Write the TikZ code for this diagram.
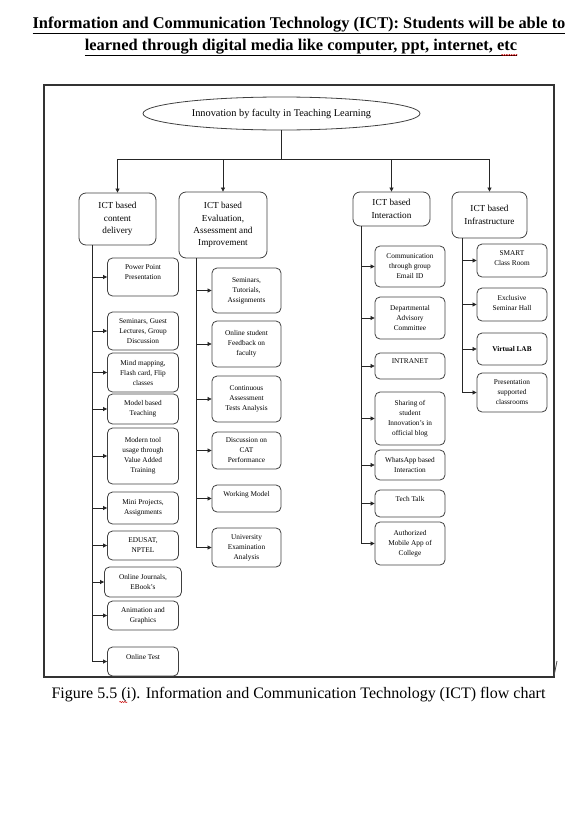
\documentclass[tikz,border=0pt]{standalone}
\usepackage{fontspec}
\setmainfont{Liberation Serif}
\usetikzlibrary{
    positioning,
    arrows.meta,
    shapes.geometric,
    decorations.pathmorphing
}

\tikzset{
    head/.style={draw=black!75, line width=0.8pt, rounded corners=7pt, align=center,
        inner sep=1pt, font=\fontsize{9.2}{12.4}\selectfont},
    item/.style={draw=black!75, line width=0.8pt, rounded corners=5pt, align=center,
        inner sep=1pt, font=\fontsize{7.3}{10}\selectfont},
    link/.style={line width=0.7pt, black!85},
    arr/.style={link, -{Triangle[length=4pt, width=4pt]}},
    squig/.style={red!80!black, line width=0.5pt, decorate,
        decoration={snake, amplitude=0.6pt, segment length=2.4pt}}
}

\begin{document}
\begin{tikzpicture}[x=1pt, y=-1pt]
            \useasboundingbox (0,0) rectangle (575,817);

            \node[anchor=base, inner sep=0, font=\bfseries\fontsize{16.4}{22}\selectfont] (title1) at (299,28)
                {\underline{Information and Communication Technology (ICT): Students will be able to}};
            \node[anchor=base, inner sep=0, font=\bfseries\fontsize{16.4}{22}\selectfont] (title2) at (301,50)
                {\underline{learned through digital media like computer, ppt, internet, etc}};
            \draw[squig] ([xshift=-16pt, yshift=-5pt]title2.base east) -- ++(16,0);

            \draw[line width=1.1pt, black!80] (44,85) rectangle (554,677);
            \draw[black!70, line width=0.8pt] (557,661) -- (554,676);

            \node[draw=black!75, line width=0.8pt, ellipse, minimum width=277, minimum height=33, inner sep=0,
                font=\fontsize{10.3}{12}\selectfont] (root) at (281.5,113.5) {Innovation by faculty in Teaching Learning};

            \node[head, minimum width=77, minimum height=52] (h1) at (117.5,219) {ICT based\\content\\delivery};
            \node[head, minimum width=88, minimum height=66] (h2) at (223,225) {ICT based\\Evaluation,\\Assessment and\\Improvement};
            \node[head, minimum width=77, minimum height=34] (h3) at (391.5,209) {ICT based\\Interaction};
            \node[head, minimum width=75, minimum height=46] (h4) at (489.5,215) {ICT based\\Infrastructure};

            \coordinate (bus) at (root.south |- 0,159);
            \draw[link] (root.south) -- (bus);
            \foreach \h in {h1,h2,h3,h4} {
                \draw[arr] (bus) -| (\h.north);
            }

            % content delivery
            \foreach \n/\y/\w/\h/\t in {
                pp/277/71/38/{Power Point\\Presentation\\\mbox{}},
                sgl/331/71/38/{Seminars, Guest\\Lectures, Group\\Discussion},
                mm/372.5/71/39/{Mind mapping,\\Flash card, Flip\\classes},
                mbt/409/71/30/{Model based\\Teaching},
                mtu/456/71/56/{Modern tool\\usage through\\Value Added\\Training},
                mpa/508/71/32/{Mini Projects,\\Assignments},
                edu/545.5/71/29/{EDUSAT,\\NPTEL},
                oje/582/77/30/{Online Journals,\\EBook’s},
                anim/615.5/71/29/{Animation and\\Graphics},
                ot/661.5/71/29/{Online Test\\\mbox{}}} {
                \node[item, minimum width=\w, minimum height=\h] (\n) at (143,\y) {\t};
            }
            \coordinate (t1) at (h1.south -| 92,0);
            \draw[arr] (t1) |- (ot.west);
            \foreach \n in {pp,sgl,mm,mbt,mtu,mpa,edu,oje,anim} {
                \draw[arr] (t1 |- \n.west) -- (\n.west);
            }

            % evaluation
            \foreach \n/\y/\h/\t in {
                sta/290.5/45/{Seminars,\\Tutorials,\\Assignments},
                osf/344/46/{Online student\\Feedback on\\faculty},
                cat/399/46/{Continuous\\Assessment\\Tests Analysis},
                dcp/450.5/37/{Discussion on\\CAT\\Performance},
                wm/498.5/27/{Working Model\\\mbox{}},
                uea/547.5/39/{University\\Examination\\Analysis}} {
                \node[item, minimum width=69, minimum height=\h] (\n) at (246.5,\y) {\t};
            }
            \coordinate (t2) at (h2.south -| 196,0);
            \draw[arr] (t2) |- (uea.west);
            \foreach \n in {sta,osf,cat,dcp,wm} {
                \draw[arr] (t2 |- \n.west) -- (\n.west);
            }

            % interaction
            \foreach \n/\y/\h/\t in {
                cge/266.5/41/{Communication\\through group\\Email ID},
                dac/318/42/{Departmental\\Advisory\\Committee},
                intra/366/26/{INTRANET\\\mbox{}},
                blog/418.5/53/{Sharing of\\student\\Innovation’s in\\official blog},
                wab/465/30/{WhatsApp based\\Interaction},
                tt/503.5/27/{Tech Talk\\\mbox{}},
                app/543.5/43/{Authorized\\Mobile App of\\College}} {
                \node[item, minimum width=70, minimum height=\h] (\n) at (410,\y) {\t};
            }
            \coordinate (t3) at (h3.south -| 361,0);
            \draw[arr] (t3) |- (app.west);
            \foreach \n in {cge,dac,intra,blog,wab,tt} {
                \draw[arr] (t3 |- \n.west) -- (\n.west);
            }

            % infrastructure
            \foreach \n/\y/\h/\t in {
                smart/260.5/33/{SMART\\Class Room\\[-6pt]\mbox{}},
                esh/304.5/33/{Exclusive\\Seminar Hall\\[-6pt]\mbox{}},
                vlab/349/32/{\textbf{Virtual LAB}},
                psc/392.5/39/{Presentation\\supported\\classrooms}} {
                \node[item, minimum width=70, minimum height=\h] (\n) at (512,\y) {\t};
            }
            \coordinate (t4) at (h4.south -| 462,0);
            \draw[arr] (t4) |- (psc.west);
            \foreach \n in {smart,esh,vlab} {
                \draw[arr] (t4 |- \n.west) -- (\n.west);
            }

            \node[anchor=base, inner sep=0, font=\fontsize{16}{19}\selectfont] (caption) at (298.5,698)
                {Figure 5.5 (i). Information and Communication Technology (ICT) flow chart};
            \draw[squig] ([xshift=68pt, yshift=-4pt]caption.base west) -- ++(8,0);
        \end{tikzpicture}
\end{document}
